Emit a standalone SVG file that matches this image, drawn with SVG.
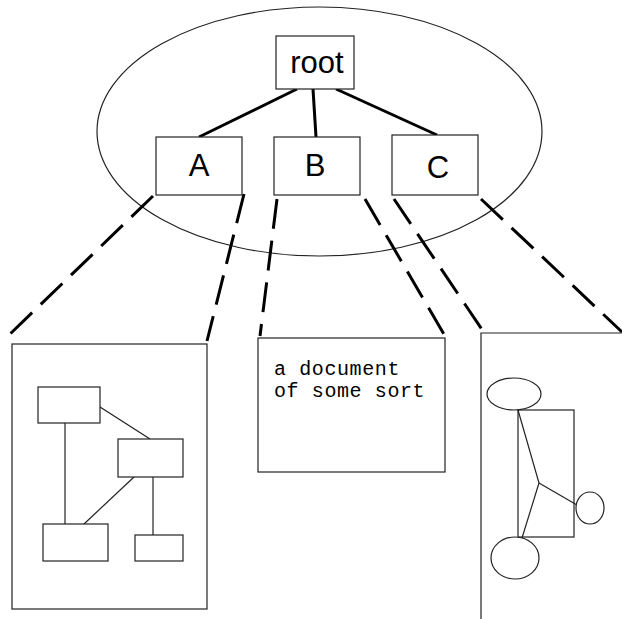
<svg xmlns="http://www.w3.org/2000/svg" width="622" height="619" viewBox="0 0 622 619">
  <style>
    .box { fill: #fff; stroke: #222; stroke-width: 1.2; }
    .thin { fill: none; stroke: #222; stroke-width: 1.2; }
    .edge { fill: none; stroke: #000; stroke-width: 3; }
    .dash { fill: none; stroke: #000; stroke-width: 3; stroke-dasharray: 30 12; }
    .label { font-family: "Liberation Sans", Arial, sans-serif; font-size: 31px; fill: #000; text-anchor: middle; }
    .doc { font-family: "Liberation Mono", "Courier New", monospace; font-size: 20px; letter-spacing: 0.6px; fill: #000; }
  </style>

  <rect width="622" height="619" fill="#fff"/>

  <!-- outline around the tree -->
  <ellipse id="cluster" class="thin" cx="319.5" cy="131.5" rx="222.5" ry="124.5"/>

  <!-- tree edges and zoom-out guides -->
  <g id="connectors">
    <line class="edge" x1="297" y1="89" x2="199" y2="137"/>
    <line class="edge" x1="313" y1="89" x2="316" y2="137"/>
    <line class="edge" x1="336" y1="89" x2="437" y2="135"/>

    <line class="dash" x1="153" y1="196" x2="8" y2="336"/>
    <line class="dash" x1="244" y1="194" x2="207" y2="341"/>
    <line class="dash" x1="277" y1="199" x2="260" y2="336"/>
    <line class="dash" x1="365" y1="199" x2="445" y2="336"/>
    <line class="dash" x1="394" y1="199" x2="483" y2="331"/>
    <line class="dash" x1="481" y1="199" x2="622" y2="332"/>
  </g>

  <g id="root">
    <rect class="box" x="276" y="36" width="78" height="53"/>
    <text class="label" x="317" y="73" font-size="32">root</text>
  </g>
  <g id="A">
    <rect class="box" x="156" y="137" width="86" height="58"/>
    <text class="label" x="199" y="176">A</text>
  </g>
  <g id="B">
    <rect class="box" x="274" y="137" width="86" height="58"/>
    <text class="label" x="315" y="176">B</text>
  </g>
  <g id="C">
    <rect class="box" x="392" y="135" width="86" height="60"/>
    <text class="label" x="438" y="178">C</text>
  </g>

  <!-- detail of A: a small box-and-line graph -->
  <g id="detailA">
    <rect class="box" x="12" y="344" width="195" height="265"/>
    <line class="thin" x1="100" y1="407" x2="150" y2="439"/>
    <line class="thin" x1="65" y1="423" x2="65" y2="524"/>
    <line class="thin" x1="134" y1="477" x2="84" y2="524"/>
    <line class="thin" x1="153" y1="477" x2="153" y2="535"/>
    <rect class="box" x="38" y="387" width="62" height="36"/>
    <rect class="box" x="118" y="439" width="65" height="38"/>
    <rect class="box" x="43" y="524" width="65" height="37"/>
    <rect class="box" x="135" y="535" width="48" height="26"/>
  </g>

  <!-- detail of B: a text document -->
  <g id="detailB">
    <rect class="box" x="258" y="338" width="187" height="134"/>
    <text class="doc" x="274" y="375">a document</text>
    <text class="doc" x="274" y="397">of some sort</text>
  </g>

  <!-- detail of C: shapes running off the page edge -->
  <g id="detailC">
    <path class="thin" d="M481,619 V333 H622"/>
    <rect class="box" x="518" y="410" width="56" height="127"/>
    <polyline class="thin" points="518,410 539,483 522,538"/>
    <line class="thin" x1="539" y1="483" x2="577" y2="505"/>
    <ellipse class="box" cx="514" cy="394" rx="27" ry="16"/>
    <ellipse class="box" cx="590" cy="508" rx="14" ry="16"/>
    <ellipse class="box" cx="515" cy="558" rx="24" ry="21"/>
  </g>
</svg>
